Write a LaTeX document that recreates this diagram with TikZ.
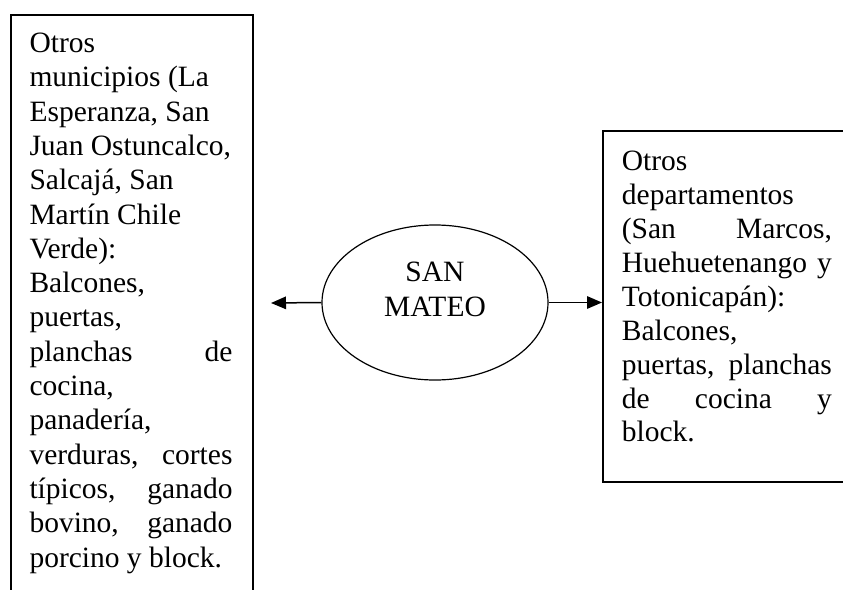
\documentclass[tikz,border=0pt]{standalone}
\usepackage{fontspec}
\setmainfont{Liberation Serif}
\usetikzlibrary{shapes.geometric,arrows.meta}
\newcommand{\jline}[1]{\makebox[\linewidth][s]{#1}}
\tikzset{
  framebox/.style={draw, line width=1.5pt, anchor=north west, inner sep=0pt},
  boxtext/.style={anchor=base west, inner sep=0pt},
  arr/.style={line width=1.5pt, -{Triangle[length=15pt,width=12.5pt]}},
}
\begin{document}
\begin{tikzpicture}[x=1pt,y=-1pt]
\useasboundingbox (0,0) rectangle (843,589);
\clip (0,0) rectangle (843,589);
% left box
\node[framebox, minimum width=242pt, minimum height=620pt] (lb) at (10,14) {};
\node[boxtext] (lt) at (29.3,52.5) {\parbox[t]{203pt}{\fontsize{29.5}{34.3}\selectfont\raggedright
Otros\\
municipios (La\\
Esperanza, San\\
Juan Ostuncalco,\\
Salcajá, San\\
Martín Chile\\
Verde):\\
Balcones,\\
puertas,\\
\jline{planchas de}\\
cocina,\\
panadería,\\
\jline{verduras, cortes}\\
\jline{típicos, ganado}\\
\jline{bovino, ganado}\\
porcino y block.}};
% right box
\node[framebox, minimum width=270pt, minimum height=351pt] (rb) at (602,130) {};
\node[boxtext] (rt) at (621.7,170.7) {\parbox[t]{210pt}{\fontsize{29.5}{33.9}\selectfont\raggedright
Otros\\
departamentos\\
\jline{(San Marcos,}\\
\jline{Huehuetenango y}\\
Totonicapán):\\
Balcones,\\
\jline{puertas, planchas}\\
\jline{de cocina y}\\
block.}};
% centre
\node[ellipse, draw, line width=1.2pt, minimum width=226pt, minimum height=155pt, inner sep=0pt] (sm) at (435,302.5) {};
\node[anchor=base, inner sep=0pt] (smt) at (435,281.7) {\parbox[t]{150pt}{\fontsize{29.5}{35}\selectfont\centering SAN\\MATEO}};
\coordinate (ltip) at (271,303);
\draw[arr] (sm.west) -- (ltip);
\draw[arr] (sm.east) -- (sm.east -| rb.west);
\end{tikzpicture}
\end{document}
